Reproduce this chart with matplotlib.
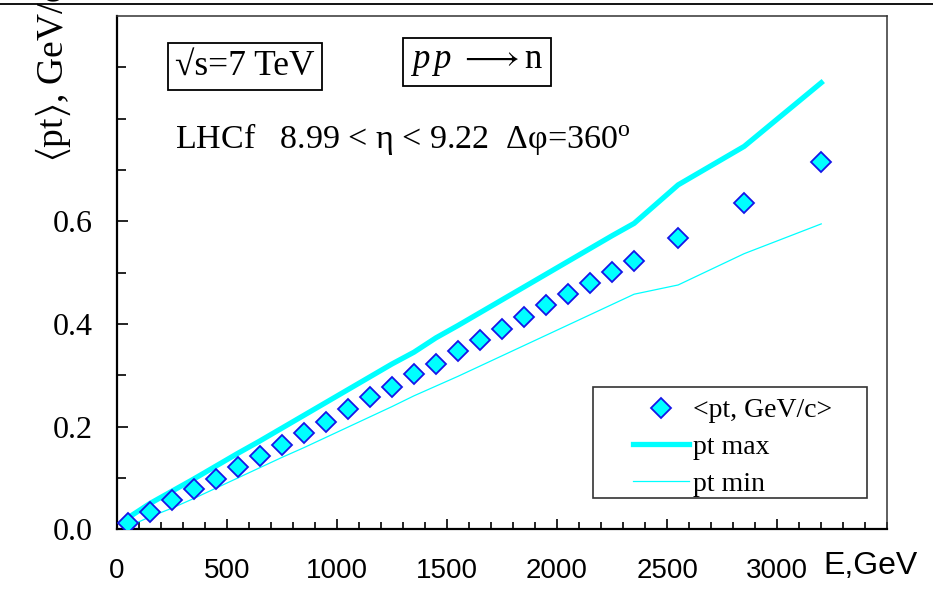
import matplotlib
matplotlib.use("Agg")
import matplotlib.pyplot as plt
from matplotlib.lines import Line2D
from matplotlib.patches import Rectangle
from matplotlib.ticker import MultipleLocator, FixedLocator

# ---- data ----
E = [50, 150, 250, 350, 450, 550, 650, 750, 850, 950, 1050, 1150, 1250, 1350,
     1450, 1550, 1650, 1750, 1850, 1950, 2050, 2150, 2250, 2350, 2550, 2850, 3200]
pt_mean = [0.012, 0.034, 0.057, 0.078, 0.098, 0.122, 0.143, 0.165, 0.187, 0.210,
           0.234, 0.257, 0.278, 0.303, 0.323, 0.348, 0.369, 0.391, 0.413, 0.437,
           0.458, 0.479, 0.502, 0.523, 0.568, 0.635, 0.715]
pt_max = [0.022, 0.050, 0.074, 0.098, 0.123, 0.148, 0.172, 0.197, 0.222, 0.247,
          0.272, 0.297, 0.322, 0.345, 0.373, 0.397, 0.422, 0.447, 0.472, 0.497,
          0.522, 0.547, 0.572, 0.596, 0.671, 0.746, 0.870]
pt_min = [0.005, 0.024, 0.041, 0.060, 0.080, 0.100, 0.120, 0.140, 0.159, 0.179,
          0.199, 0.219, 0.239, 0.260, 0.279, 0.298, 0.318, 0.338, 0.358, 0.378,
          0.398, 0.418, 0.438, 0.458, 0.476, 0.537, 0.595]
x_ticks = [0, 500, 1000, 1500, 2000, 2500, 3000]
x_ticklabels = ["0", "500", "1000", "1500", "2000", "2500", "3000"]
y_ticks = [0.0, 0.2, 0.4, 0.6]
y_ticklabels = ["0.0", "0.2", "0.4", "0.6"]

SERIF = ["Liberation Serif", "DejaVu Serif"]
SANS = ["Liberation Sans", "DejaVu Sans"]
plt.rcParams["mathtext.fontset"] = "custom"
plt.rcParams["mathtext.rm"] = "Liberation Serif"
plt.rcParams["mathtext.it"] = "Liberation Serif:italic"
plt.rcParams["mathtext.fallback"] = "stix"

W, H = 933, 591
fig = plt.figure(figsize=(W / 100, H / 100), dpi=100)
L, R, T, B = 116.7, 887.3, 16.0, 529.3
ax = fig.add_axes([L / W, 1 - B / H, (R - L) / W, (B - T) / H])

CYAN = "#00ffff"
h_max, = ax.plot(E, pt_max, color=CYAN, lw=3.8, label="pt max", zorder=2)
h_min, = ax.plot(E, pt_min, color=CYAN, lw=0.9, label="pt min", zorder=2)
h_mean, = ax.plot(E, pt_mean, ls="none", marker="D", ms=10, mfc=CYAN, mec="#1515e8",
                  mew=1.3, label="<pt, GeV/c>", zorder=3)

ax.set_xlim(0, 3500)
ax.set_ylim(0, 1.0)

ax.xaxis.set_major_locator(FixedLocator(x_ticks))
ax.xaxis.set_minor_locator(MultipleLocator(100))
ax.set_xticklabels(x_ticklabels, family=SANS, fontsize=20)
ax.yaxis.set_major_locator(FixedLocator(y_ticks))
ax.yaxis.set_minor_locator(FixedLocator([0.1, 0.3, 0.5, 0.7, 0.8, 0.9]))
ax.set_yticklabels(y_ticklabels, family=SERIF, fontsize=23)

ax.tick_params(axis="x", which="major", direction="in", length=7, width=1.2, pad=21,
               top=False, color="black")
ax.tick_params(axis="x", which="minor", direction="in", length=5, width=1.2, top=False,
               color="black")
ax.tick_params(axis="y", which="major", direction="in", length=8, width=1.2, pad=17,
               right=False)
ax.tick_params(axis="y", which="minor", direction="in", length=6.5, width=1.2,
               right=False)

for s in ("left", "bottom"):
    ax.spines[s].set_linewidth(1.6)
    ax.spines[s].set_color("black")
for s in ("top", "right"):
    ax.spines[s].set_linewidth(1.1)
    ax.spines[s].set_color("#333333")

# axis titles
fig.text(823 / W, 1 - 574 / H, "E,GeV", family=SANS, fontsize=23, ha="left",
         va="baseline")
fig.text(53 / W, 1 - 162 / H, r"$\langle$pt$\rangle$, GeV/c", family=SERIF,
         fontsize=27, rotation=90, ha="center", va="bottom")

# annotation boxes
fig.text(245 / W, 1 - 66.7 / H, "\u221as=7 TeV", family=SERIF, fontsize=25.5,
         ha="center", va="center",
         bbox=dict(boxstyle="square,pad=0.2", fc="white", ec="black", lw=1.3))
fig.text(476.7 / W, 1 - 61.7 / H, r"$\mathit{p\,p}\ \longrightarrow$n",
         family=SERIF, fontsize=25, ha="center", va="center",
         bbox=dict(boxstyle="square,pad=0.22", fc="white", ec="black", lw=1.3))
fig.text(175 / W, 1 - 148 / H,
         "LHCf   8.99 < \u03b7 < 9.22  \u0394\u03c6=360$^{\\mathrm{o}}$",
         family=SERIF, fontsize=24.5, ha="left", va="baseline")

# legend
leg = ax.legend(handles=[h_mean, h_max, h_min],
                labels=["<pt, GeV/c>", "pt max", "pt min"],
                loc="upper left", bbox_to_anchor=(633 / W, 1 - 398 / H),
                bbox_transform=fig.transFigure, frameon=False, borderpad=0,
                borderaxespad=0, handlelength=2.0, handletextpad=0.15,
                labelspacing=0.4, prop=dict(family=SERIF, size=20))
fig.add_artist(Rectangle((593 / W, 1 - 498.3 / H), (866.7 - 593) / W,
                         (498.3 - 386.7) / H, transform=fig.transFigure,
                         fill=False, ec="#333333", lw=1.2))

# outer top rule
fig.add_artist(Line2D([0, 1], [1 - 4 / H, 1 - 4 / H], transform=fig.transFigure,
                      color="black", lw=1.3))

fig.savefig("out.png", dpi=100)
